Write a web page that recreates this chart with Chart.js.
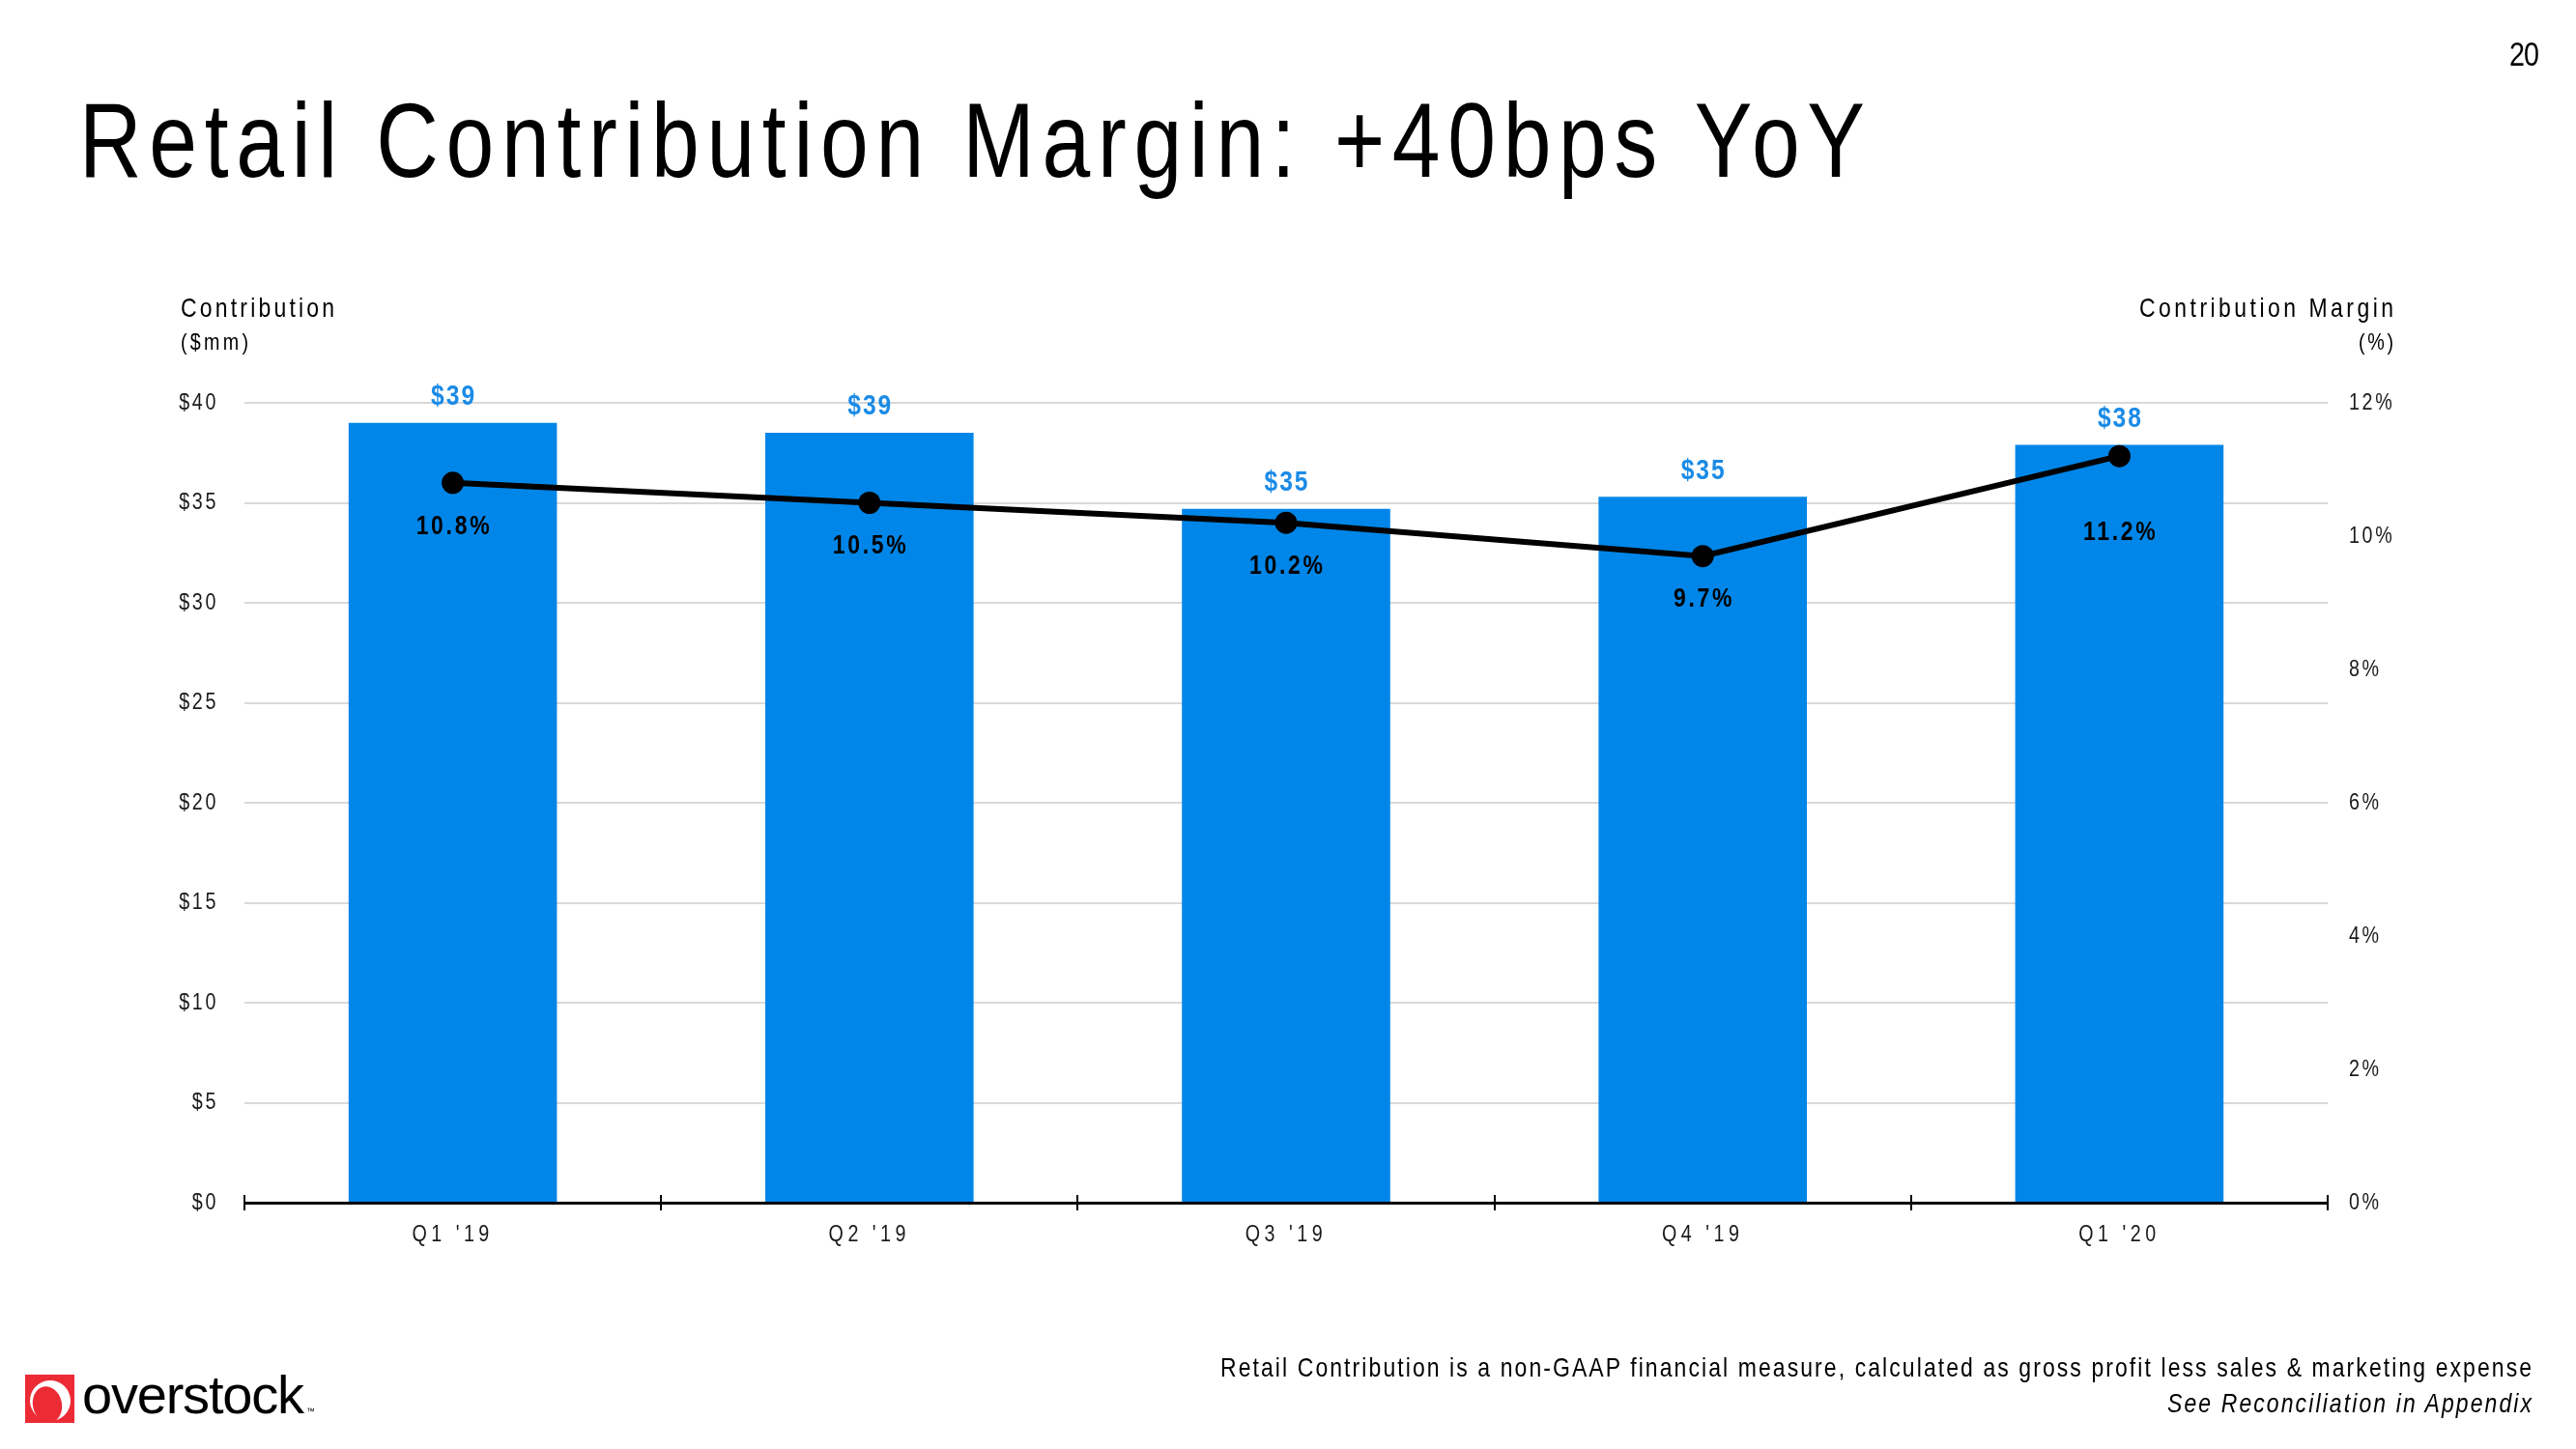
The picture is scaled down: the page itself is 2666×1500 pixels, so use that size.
<!DOCTYPE html>
<html>
<head>
<meta charset="utf-8">
<script src="https://cdn.jsdelivr.net/npm/chart.js@4.4.1/dist/chart.umd.min.js"></script>
<style>
html,body{margin:0;padding:0;background:#fff;}
body{width:2666px;height:1500px;position:relative;overflow:hidden;}
#wrap{position:absolute;left:0;top:0;width:2666px;height:1500px;z-index:1;}
.t{position:absolute;white-space:nowrap;line-height:1;z-index:2;left:0;top:0;transform-origin:0 0;}
</style>
</head>
<body>
<div id="wrap"><canvas id="c" width="2666" height="1500" style="width:2666px;height:1500px;"></canvas></div>
<svg style="position:absolute;left:26px;top:1423px;z-index:2" width="51" height="50" viewBox="0 0 51 50">
  <rect width="51" height="50" fill="#EC2B35"/>
  <ellipse cx="26" cy="27" rx="21" ry="21" fill="#fff" transform="rotate(-25 26 27)"/>
  <ellipse cx="23" cy="31" rx="15" ry="19" fill="#EC2B35" transform="rotate(-12 23 31)"/>
</svg>
<script>
// ---- data ----
const categories = ["Q1 '19", "Q2 '19", "Q3 '19", "Q4 '19", "Q1 '20"];
const contribution = [39.0, 38.5, 34.7, 35.3, 37.9];      // $mm
const margin = [10.8, 10.5, 10.2, 9.7, 11.2];              // %
const leftTickLabels = ['$0', '$5', '$10', '$15', '$20', '$25', '$30', '$35', '$40'];
const rightTickLabels = ['0%', '2%', '4%', '6%', '8%', '10%', '12%'];

const FONT = "'Liberation Sans', Arial, sans-serif";
const SX = 0.82; // horizontal squeeze to emulate a narrow face

// ---- html text helper ----
function place(o) {
  const sx = o.sx === undefined ? SX : o.sx;
  const d = document.createElement('div');
  d.className = 't';
  d.style.font = `${o.style || 'normal'} ${o.weight || 400} ${o.size}px ${o.family || FONT}`;
  d.style.color = o.color || '#000';
  const t = document.createElement('span');
  t.textContent = o.text;
  d.appendChild(t);
  const m = document.createElement('span');
  m.style.cssText = 'display:inline-block;width:0;height:0;vertical-align:baseline';
  d.appendChild(m);
  document.body.appendChild(d);
  let ls = 0;
  const n = [...o.text].length;
  if (o.width) {
    const w = t.getBoundingClientRect().width;
    ls = (o.width / sx - w) / (n - 1);
    t.style.letterSpacing = ls + 'px';
  }
  const r = t.getBoundingClientRect();
  const vis = (r.width - ls) * sx;
  const b = m.getBoundingClientRect().top - d.getBoundingClientRect().top;
  let left = o.x;
  if (o.align === 'right') left = o.x - vis;
  else if (o.align === 'center') left = o.x - vis / 2;
  d.style.left = left + 'px';
  d.style.top = (o.baseline - b) + 'px';
  d.style.transform = `scaleX(${sx})`;
  return d;
}

place({text: 'Retail Contribution Margin: +40bps YoY', x: 82, baseline: 183, size: 109, width: 1848});
place({text: '20', x: 2628, baseline: 68, size: 35, width: 31, align: 'right'});
place({text: 'Contribution', x: 187, baseline: 328, size: 28, width: 159});
place({text: '($mm)', x: 187, baseline: 362, size: 24, width: 70});
place({text: 'Contribution Margin', x: 2477, baseline: 328, size: 28, width: 263, align: 'right'});
place({text: '(%)', x: 2477, baseline: 362, size: 24, width: 36, align: 'right'});
place({text: 'Retail Contribution is a non-GAAP financial measure, calculated as gross profit less sales & marketing expense', x: 2620, baseline: 1425, size: 28, width: 1357, align: 'right'});
place({text: 'See Reconciliation in Appendix', x: 2620, baseline: 1462, size: 28, width: 377, align: 'right', style: 'italic'});
place({text: 'overstock', x: 85, baseline: 1463, size: 56, width: 230, sx: 1});
place({text: '™', x: 317, baseline: 1464, size: 9, sx: 1});

// ---- helpers for narrow tick labels ----
function narrowLabels(scale, ls) {
  if (scale._narrowPatched) return;
  const orig = scale.drawLabels;
  scale.drawLabels = function (a) {
    const c = this.ctx;
    const prevLs = c.letterSpacing;
    const protoRotate = CanvasRenderingContext2D.prototype.rotate;
    c.rotate = function (ang) { protoRotate.call(this, ang); this.scale(SX, 1); };
    c.letterSpacing = ls;
    try { orig.call(this, a); }
    finally { delete c.rotate; c.letterSpacing = prevLs; }
  };
  scale._narrowPatched = true;
}

const narrowPlugin = {
  id: 'narrow',
  beforeDraw(chart) {
    narrowLabels(chart.scales.x, '5.5px');
    narrowLabels(chart.scales.y, '3.2px');
    narrowLabels(chart.scales.y1, '3.2px');
  }
};

const axisTicksPlugin = {
  id: 'axisTicks',
  afterDraw(chart) {
    const xs = chart.scales.x;
    const ca = chart.chartArea;
    const n = categories.length;
    const half = (xs.getPixelForValue(1) - xs.getPixelForValue(0)) / 2;
    const ctx = chart.ctx;
    ctx.save();
    ctx.strokeStyle = '#000';
    ctx.lineWidth = 2;
    for (let i = 0; i <= n; i++) {
      const p = i < n ? xs.getPixelForValue(i) - half : xs.getPixelForValue(n - 1) + half;
      const x = Math.round(p);
      ctx.beginPath();
      ctx.moveTo(x, ca.bottom - 8);
      ctx.lineTo(x, ca.bottom + 8);
      ctx.stroke();
    }
    ctx.restore();
  }
};

function narrowText(ctx, text, x, y, lsPx) {
  ctx.save();
  ctx.translate(x + lsPx * SX / 2, y);
  ctx.scale(SX, 1);
  ctx.letterSpacing = lsPx + 'px';
  ctx.fillText(text, 0, 0);
  ctx.restore();
}

const valueLabelsPlugin = {
  id: 'valueLabels',
  afterDatasetsDraw(chart, args, opts) {
    const ctx = chart.ctx;
    ctx.save();
    ctx.textAlign = 'center';
    ctx.textBaseline = 'middle';
    const barMeta = chart.getDatasetMeta(1);
    ctx.font = `bold 30px ${FONT}`;
    ctx.fillStyle = '#1B8BE6';
    barMeta.data.forEach((el, i) => {
      narrowText(ctx, '$' + Math.round(contribution[i]), el.x, el.y - opts.barOffset, 2.4);
    });
    const lineMeta = chart.getDatasetMeta(0);
    ctx.font = `bold 28px ${FONT}`;
    ctx.fillStyle = '#000';
    lineMeta.data.forEach((el, i) => {
      const off = (opts.lineOffsetOverride[i] !== undefined) ? opts.lineOffsetOverride[i] : opts.lineOffset;
      narrowText(ctx, margin[i].toFixed(1) + '%', el.x, el.y + off, 3.3);
    });
    ctx.restore();
  }
};

const tickFont = {family: FONT, size: 24};

new Chart(document.getElementById('c'), {
  data: {
    labels: categories,
    datasets: [
      {
        type: 'line', label: 'Contribution Margin', data: margin, yAxisID: 'y1',
        borderColor: '#000', backgroundColor: '#000', borderWidth: 6,
        pointRadius: 11.5, pointHoverRadius: 11.5, pointBackgroundColor: '#000',
        pointBorderWidth: 0, tension: 0, order: 0
      },
      {
        type: 'bar', label: 'Contribution', data: contribution, yAxisID: 'y',
        backgroundColor: '#0086E8', categoryPercentage: 1, barPercentage: 0.5, order: 1
      }
    ]
  },
  options: {
    responsive: false,
    animation: false,
    devicePixelRatio: 1,
    events: [],
    layout: {padding: {top: 417, bottom: 195, left: 0, right: 0}},
    plugins: {
      legend: {display: false},
      tooltip: {enabled: false},
      valueLabels: {barOffset: 27, lineOffset: 45, lineOffsetOverride: {4: 79}}
    },
    scales: {
      x: {
        offset: true,
        grid: {display: true, color: 'rgba(0,0,0,0)', drawTicks: false, drawOnChartArea: false},
        border: {display: true, color: '#000', width: 3, z: 1},
        ticks: {font: tickFont, color: '#1a1a1a', padding: 19, maxRotation: 0, minRotation: 0, autoSkip: false},
        afterFit(s) { s.height = 60; }
      },
      y: {
        position: 'left', min: 0, max: 40,
        ticks: {stepSize: 5, font: tickFont, color: '#1a1a1a', padding: 27,
                callback: (v, i) => leftTickLabels[i]},
        grid: {color: (c) => (c.tick && c.tick.value === 0) ? 'rgba(0,0,0,0)' : '#d9d9d9', lineWidth: 2, drawTicks: false},
        border: {display: false},
        afterFit(s) { s.width = 253; }
      },
      y1: {
        position: 'right', min: 0, max: 12,
        ticks: {stepSize: 2, font: tickFont, color: '#1a1a1a', padding: 22,
                callback: (v, i) => rightTickLabels[i]},
        grid: {display: false, drawOnChartArea: false, drawTicks: false},
        border: {display: false},
        afterFit(s) { s.width = 257; }
      }
    }
  },
  plugins: [narrowPlugin, axisTicksPlugin, valueLabelsPlugin]
});
</script>
</body>
</html>
